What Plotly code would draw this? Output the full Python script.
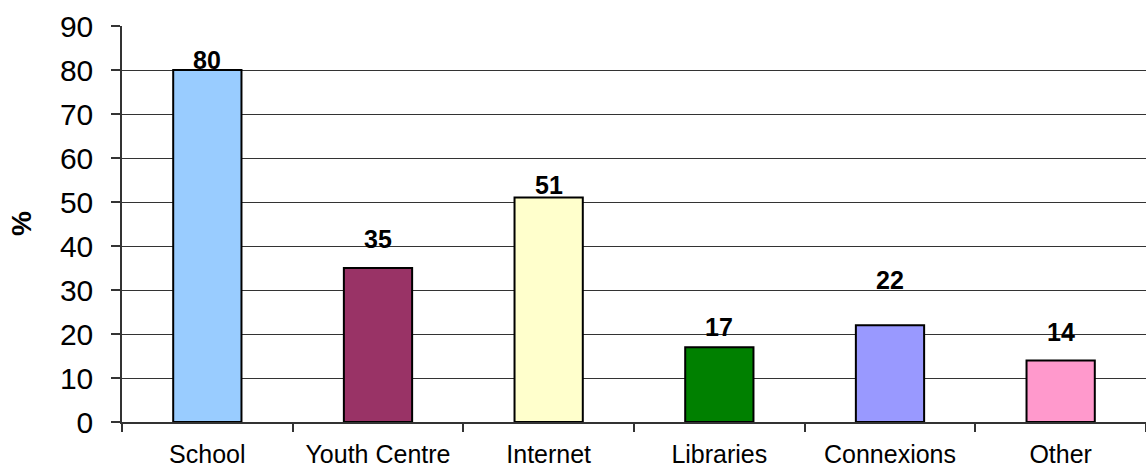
import plotly.graph_objects as go

categories = ["School", "Youth Centre", "Internet", "Libraries", "Connexions", "Other"]
percentages = [80, 35, 51, 17, 22, 14]
bar_colors = ["#99CCFF", "#993366", "#FFFFCC", "#008000", "#9999FF", "#FF99CC"]
label_gap = [1, 20, 4, 11, 36, 19]  # px between bar top and its value label

FONT = "Liberation Sans, Arial, sans-serif"

fig = go.Figure()
fig.add_trace(go.Bar(
    x=categories,
    y=percentages,
    marker=dict(color=bar_colors, line=dict(color="#000000", width=2)),
    width=0.4,
    hoverinfo="x+y",
))

for cat, val, gap in zip(categories, percentages, label_gap):
    fig.add_annotation(
        x=cat, y=val, text=f"<b>{val}</b>",
        showarrow=False, yanchor="bottom", yshift=gap - 7,
        font=dict(family=FONT, size=25, color="#000000"),
    )

# rotated axis title
fig.add_annotation(
    xref="paper", yref="paper", x=0, y=0.5,
    xanchor="center", yanchor="middle", xshift=-101,
    text="<b>%</b>", textangle=-90, showarrow=False,
    font=dict(family=FONT, size=28, color="#000000"),
)

fig.update_layout(
    width=1146, height=468,
    margin=dict(l=122, r=0, t=26, b=46),
    paper_bgcolor="#FFFFFF", plot_bgcolor="#FFFFFF",
    font=dict(family=FONT, color="#000000"),
    showlegend=False,
    bargap=0.6,
)
fig.update_xaxes(
    type="category", automargin=False,
    showline=True, linecolor="#333333", linewidth=1.5,
    ticks="outside", tickson="boundaries", ticklen=8, tickcolor="#333333", tickwidth=1.5,
    tickfont=dict(size=25), ticklabelstandoff=9,
    showgrid=False,
)
fig.update_yaxes(
    range=[0, 90], dtick=10, tick0=0, automargin=False,
    showline=True, linecolor="#333333", linewidth=1.5,
    ticks="outside", ticklen=9, tickcolor="#333333", tickwidth=1.5,
    tickfont=dict(size=30), ticklabelstandoff=12,
    showgrid=True, gridcolor="#333333", gridwidth=1,
    zeroline=False,
)

fig.write_html("out.html")
